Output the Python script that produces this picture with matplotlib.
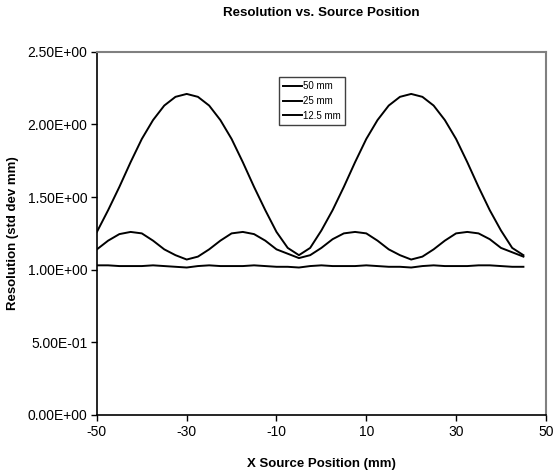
import numpy as np
import matplotlib
matplotlib.use("Agg")
import matplotlib.pyplot as plt

plt.rcParams["font.family"] = ["Liberation Sans", "DejaVu Sans"]
plt.rcParams["axes.unicode_minus"] = False

# Положение источника, мм
x_pos = np.arange(-50, 45.1, 2.5)

# Разрешение (std dev, мм) для трёх размеров
res_50 = [1.26, 1.41, 1.57, 1.74, 1.90, 2.03, 2.13, 2.19, 2.21, 2.19,
          2.13, 2.03, 1.90, 1.74, 1.57, 1.41, 1.26, 1.15, 1.10, 1.15,
          1.27, 1.41, 1.57, 1.74, 1.90, 2.03, 2.13, 2.19, 2.21, 2.19,
          2.13, 2.03, 1.90, 1.74, 1.57, 1.41, 1.27, 1.15, 1.10]
res_25 = [1.14, 1.20, 1.245, 1.26, 1.25, 1.20, 1.14, 1.10, 1.07, 1.09,
          1.14, 1.20, 1.25, 1.26, 1.245, 1.20, 1.14, 1.11, 1.08, 1.10,
          1.15, 1.21, 1.25, 1.26, 1.25, 1.20, 1.14, 1.10, 1.07, 1.09,
          1.14, 1.20, 1.25, 1.26, 1.25, 1.21, 1.15, 1.12, 1.09]
res_12 = [1.03, 1.03, 1.025, 1.025, 1.025, 1.03, 1.025, 1.02, 1.015, 1.025,
          1.03, 1.025, 1.025, 1.025, 1.03, 1.025, 1.02, 1.02, 1.015, 1.025,
          1.03, 1.025, 1.025, 1.025, 1.03, 1.025, 1.02, 1.02, 1.015, 1.025,
          1.03, 1.025, 1.025, 1.025, 1.03, 1.03, 1.025, 1.02, 1.02]
labels = ["50 mm", "25 mm", "12.5 mm"]

fig = plt.figure(figsize=(5.57, 4.71), dpi=100)
ax = fig.add_axes([0.174, 0.119, 0.806, 0.771])

for y, lab in zip([res_50, res_25, res_12], labels):
    ax.plot(x_pos, y, color="black", lw=1.4, label=lab)

ax.set_xlim(-50, 50)
ax.set_ylim(0, 2.5)
ax.set_xticks(np.arange(-50, 51, 20))
ax.set_yticks(np.arange(0, 2.51, 0.5))
ax.set_yticklabels([f"{v:.2E}" for v in np.arange(0, 2.51, 0.5)])
ax.tick_params(labelsize=10, direction="out", length=4, width=1, pad=3)

for s in ["left", "bottom"]:
    ax.spines[s].set_color("black")
    ax.spines[s].set_linewidth(1.2)
for s in ["top", "right"]:
    ax.spines[s].set_color("#808080")
    ax.spines[s].set_linewidth(1.5)

ax.set_title("Resolution vs. Source Position", fontsize=9.6, fontweight="bold", pad=26)
ax.set_xlabel("X Source Position (mm)", fontsize=9.5, fontweight="bold", labelpad=14)
ax.set_ylabel("Resolution (std dev mm)", fontsize=9.5, fontweight="bold", labelpad=6)

leg = ax.legend(loc="upper left", bbox_to_anchor=(0.405, 0.93), fontsize=7,
                handlelength=2.0, handletextpad=0.1, borderpad=0.4, labelspacing=0.5,
                fancybox=False, framealpha=1, borderaxespad=0)
leg.get_frame().set_edgecolor("#404040")
leg.get_frame().set_linewidth(1.0)

fig.savefig("out.png", dpi=100)
